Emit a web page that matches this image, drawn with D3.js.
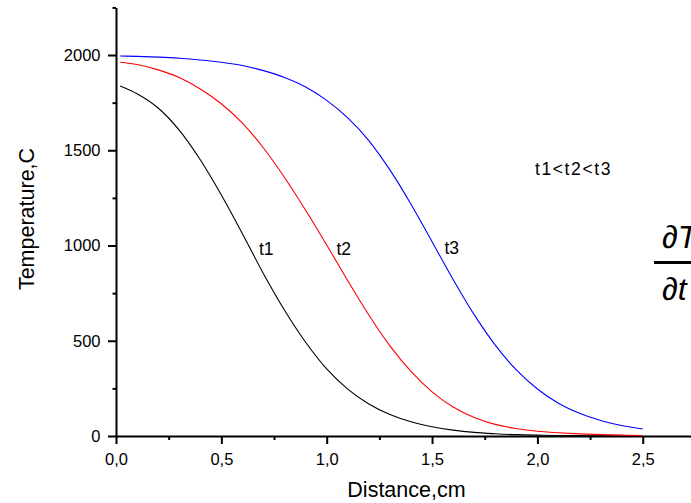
<!DOCTYPE html>
<html>
<head>
<meta charset="utf-8">
<script src="https://cdn.jsdelivr.net/npm/d3@7"></script>
<style>
  html, body { margin: 0; padding: 0; background: #fff; }
  svg { display: block; }
  text { font-family: "Liberation Sans", Arial, sans-serif; fill: #000; }
</style>
</head>
<body>
<svg id="chart" width="691" height="503"></svg>
<script>
// Distance from the heated surface, cm
const distance = [0.02, 0.1, 0.2, 0.3, 0.4, 0.5, 0.6, 0.7, 0.8, 0.9, 1.0, 1.1, 1.2,
                  1.3, 1.4, 1.5, 1.6, 1.7, 1.8, 1.9, 2.0, 2.1, 2.2, 2.3, 2.4, 2.5];
// Temperature profiles, °C, at three successive moments
const tempT1 = [1838, 1797, 1722, 1606, 1450, 1265, 1062, 852, 660, 492, 352, 246, 168,
                113, 75, 49, 31, 19, 12, 7, 4.5, 3, 2, 1.3, 0.9, 0.6];
const tempT2 = [1962, 1950, 1922, 1882, 1822, 1744, 1642, 1512, 1357, 1185, 1003, 815, 635,
                473, 339, 232, 152, 97, 61, 39, 25, 17, 11, 7, 4.5, 3];
const tempT3 = [1995, 1993, 1989, 1983, 1974, 1962, 1945, 1918, 1882, 1832, 1762, 1670, 1551,
                1397, 1217, 1020, 822, 637, 477, 347, 247, 172, 119, 81, 55, 37];
const seriesNames = ["t1", "t2", "t3"];
const seriesColors = ["#000000", "#ff0000", "#0000ff"];
const xMajorTicks = [0, 0.5, 1.0, 1.5, 2.0, 2.5];
const xMinorTicks = [0.25, 0.75, 1.25, 1.75, 2.25, 2.75];
const yMajorTicks = [0, 500, 1000, 1500, 2000];
const yMinorTicks = [250, 750, 1250, 1750, 2250];

const svg = d3.select("#chart");
svg.append("rect").attr("width", 691).attr("height", 503).attr("fill", "#fff");

const x = d3.scaleLinear().domain([0, 2.75]).range([116, 116 + 2.75 * 210.7]);
const y = d3.scaleLinear().domain([0, 2250]).range([436, 7.4]);

const comma = v => d3.format(".1f")(v).replace(".", ",");

// minor ticks first, majors and axis lines on top
svg.append("g").attr("transform", "translate(0,436)")
  .call(d3.axisBottom(x).tickValues(xMinorTicks).tickSize(4).tickSizeOuter(0).tickFormat(""))
  .call(g => g.select(".domain").remove());
svg.append("g").attr("transform", "translate(116,0)")
  .call(d3.axisLeft(y).tickValues(yMinorTicks).tickSize(3.5).tickSizeOuter(0).tickFormat(""))
  .call(g => g.select(".domain").remove());

svg.append("g").attr("transform", "translate(0,436)")
  .call(d3.axisBottom(x).tickValues(xMajorTicks).tickSize(8).tickSizeOuter(0)
        .tickPadding(9).tickFormat(comma));
svg.append("g").attr("transform", "translate(116,0)")
  .call(d3.axisLeft(y).tickValues(yMajorTicks).tickSize(8).tickSizeOuter(0)
        .tickPadding(7.5).tickFormat(d3.format("d")));

svg.selectAll(".tick line, .domain").attr("stroke", "#000").attr("stroke-width", 2);
svg.selectAll(".tick text").attr("font-size", "16.5px")
  .attr("font-family", "'Liberation Sans', Arial, sans-serif").attr("fill", "#000");

// axis titles
svg.append("text").attr("x", 406.5).attr("y", 497).attr("text-anchor", "middle")
  .attr("font-size", "21.5px").text("Distance,cm");
svg.append("text").attr("transform", "translate(34,219) rotate(-90)")
  .attr("text-anchor", "middle").attr("font-size", "21.5px").text("Temperature,C");

// temperature curves
const series = [tempT1, tempT2, tempT3];
const line = d3.line()
  .x(d => x(d[0])).y(d => y(d[1]))
  .curve(d3.curveMonotoneX);
series.forEach((vals, i) => {
  svg.append("path")
    .datum(distance.map((dx, k) => [dx, vals[k]]))
    .attr("fill", "none")
    .attr("stroke", seriesColors[i])
    .attr("stroke-width", 1.1)
    .attr("d", line);
});

// curve labels
const labelPos = [[259, 255], [336.5, 255], [444.5, 254]];
seriesNames.forEach((name, i) => {
  svg.append("text").attr("x", labelPos[i][0]).attr("y", labelPos[i][1])
    .attr("font-size", "17.5px").text(name);
});
svg.append("text").attr("x", 535).attr("y", 175)
  .attr("font-size", "17.5px").attr("letter-spacing", "1.6px").text("t1<t2<t3");

// heat equation fragment at the right edge
const eq = svg.append("g").attr("font-family", "'DejaVu Serif', 'Liberation Serif', serif")
  .attr("font-style", "italic");
eq.append("text").attr("x", 662).attr("y", 248).attr("font-size", "32px").text("∂T");
eq.append("rect").attr("x", 654).attr("y", 261).attr("width", 60).attr("height", 3).attr("fill", "#000");
eq.append("text").attr("x", 662).attr("y", 300).attr("font-size", "32px").text("∂t");
</script>
</body>
</html>
